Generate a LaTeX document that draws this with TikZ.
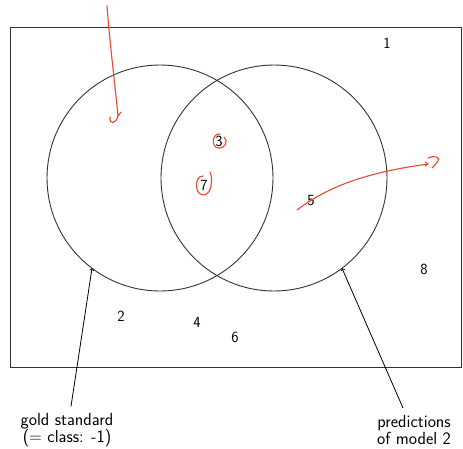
\documentclass[tikz,border=0pt]{standalone}
\usetikzlibrary{calc}
\begin{document}
\begin{tikzpicture}[x=1pt,y=-1pt,
  every node/.style={font=\sffamily\fontsize{15.5}{16}\selectfont},
  caption/.style={align=center,font=\sffamily\fontsize{17.5}{15.5}\selectfont},
  setcirc/.style={circle,draw=black!80,line width=0.9pt,minimum size=226pt,inner sep=0pt,outer sep=0pt},
  numlbl/.style={inner sep=1pt},
  pen/.style={draw={rgb,255:red,232;green,72;blue,44},line width=1.1pt,line cap=round,line join=round},
  pointer/.style={->,line width=0.8pt,black}]
\useasboundingbox (0,0) rectangle (463,448);
\draw[black!80,line width=0.9pt] (10,27) rectangle (461,367);
\node[setcirc] (gold) at (160,178) {};
\node[setcirc] (pred) at (274,178) {};
\node[numlbl] (n1) at (387,43) {1};
\node[numlbl] (n3) at (219,141) {3};
\node[numlbl] (n7) at (204,185) {7};
\node[numlbl] (n5) at (311,201) {5};
\node[numlbl] (n8) at (424,269) {8};
\node[numlbl] (n2) at (121,316) {2};
\node[numlbl] (n4) at (197,322) {4};
\node[numlbl] (n6) at (235,337) {6};
\node[caption] (goldtxt) at (67,430) {gold standard\\(= class: -1)};
\node[caption] (predtxt) at (414,430) {predictions\\of model 2};
\draw[pointer] ($(goldtxt.north)+(4,-3)$) -- (gold.233);
\draw[pointer] ($(predtxt.north)+(-11,-4)$) -- (pred.307);
% red freehand annotations
\draw[pen] (107,6) .. controls (110,45) and (115,85) .. (118,116)
  .. controls (116,124) and (109,125) .. (110,117);
\draw[pen] (118,116) -- (121,112);
\draw[pen] (220,134) .. controls (212,133) and (211,147) .. (218,148)
  .. controls (225,149) and (229,141) .. (224,137);
\draw[pen] (210,172) .. controls (213,178) and (212,194) .. (204,195)
  .. controls (196,195) and (195,184) .. (198,179) .. controls (199,177) and (201,176) .. (203,176);
\draw[pen] (297,210) .. controls (330,185) and (370,172) .. (428,164);
\draw[pen] (425,162) -- (428,164) -- (425,166);
\draw[pen] (428,158) .. controls (433,155) and (441,157) .. (438,161) .. controls (436,164) and (434,166) .. (432,168);
\end{tikzpicture}
\end{document}
